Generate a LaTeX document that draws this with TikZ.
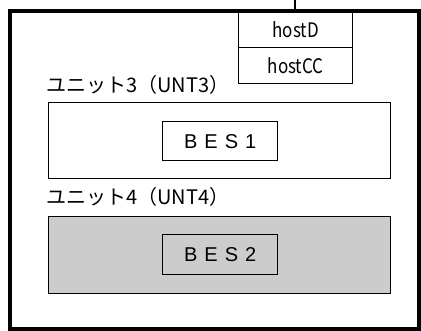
\documentclass[tikz,border=0pt]{standalone}
\usepackage{fontspec}
\newfontfamily\gothic[FakeStretch=0.85]{Noto Sans CJK JP}
\newfontfamily\gothicwide{Noto Sans CJK JP}
\newfontfamily\besfont{Liberation Sans}
\begin{document}
\begin{tikzpicture}[x=1pt,y=-1pt,
  thinbox/.style={draw=black,line width=1.3pt},
  lbl/.style={inner sep=0pt,anchor=west,font=\gothicwide\fontsize{20}{20}\selectfont},
  hosttext/.style={inner sep=0pt,font=\gothic\fontsize{20}{20}\selectfont},
  bestext/.style={inner sep=0pt,font=\besfont\fontsize{20}{20}\selectfont}]
\useasboundingbox (0,0) rectangle (421,331);
% outer frame
\draw[line width=4.5pt] (10,11) rectangle (419.5,329);
% host box
\node[thinbox,minimum width=114pt,minimum height=35pt,anchor=north west,inner sep=0pt] (hostD) at (238,12) {};
\node[thinbox,minimum width=114pt,minimum height=36pt,anchor=north west,inner sep=0pt] (hostCC) at (238,47) {};
\node[hosttext] at (hostD.center) {hostD};
\node[hosttext] at (hostCC.center) {hostCC};
\coordinate (top) at (295,0);
\draw[line width=1.5pt] (top) -- (hostD.north -| top);
% unit 3
\node[lbl] (l3) at (46,85) {ユニット3（UNT3）};
\node[thinbox,fill=white,minimum width=342pt,minimum height=76pt,anchor=north west,inner sep=0pt] (u3) at (48,102) {};
\node[thinbox,minimum width=115pt,minimum height=39pt,anchor=north west,inner sep=0pt] (b1) at (162,121) {};
\node[bestext] at (b1.center) {B\hspace{7pt}E\hspace{7pt}S\hspace{7pt}1};
% unit 4
\node[lbl] (l4) at (46,197) {ユニット4（UNT4）};
\node[thinbox,fill=black!20,minimum width=342pt,minimum height=77pt,anchor=north west,inner sep=0pt] (u4) at (48,216) {};
\node[thinbox,fill=black!20,minimum width=115pt,minimum height=40pt,anchor=north west,inner sep=0pt] (b2) at (162,234) {};
\node[bestext] at (b2.center) {B\hspace{7pt}E\hspace{7pt}S\hspace{7pt}2};
\end{tikzpicture}
\end{document}
